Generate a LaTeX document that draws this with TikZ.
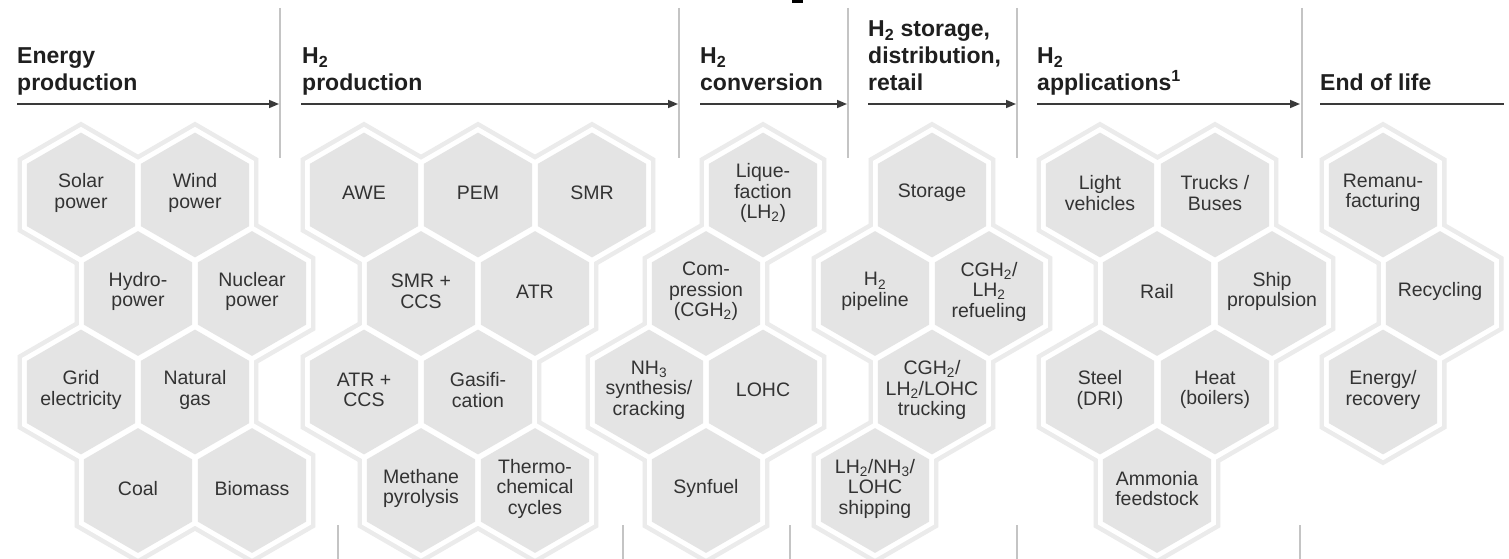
\documentclass[tikz,border=0pt]{standalone}
\usepackage{fontspec}
\setmainfont{Liberation Sans}
\usetikzlibrary{arrows.meta}
\definecolor{hexfill}{HTML}{E4E4E4}
\definecolor{hexband}{HTML}{EBEBEB}
\definecolor{sepline}{HTML}{C4C4C4}
\definecolor{arrcol}{HTML}{3A3A3A}
\definecolor{headcol}{HTML}{1F1F1F}
\definecolor{lblcol}{HTML}{333333}
\tikzset{
  head/.style={anchor=base west, inner sep=0pt, font=\fontsize{23}{27}\selectfont\bfseries, text=headcol},
  lbl/.style={align=center, inner sep=0pt, font=\fontsize{19.5}{20.5}\selectfont, text=lblcol},
  flow/.style={draw=arrcol, line width=1.5pt, -{Triangle[length=10pt,width=8pt]}},
  flowplain/.style={draw=arrcol, line width=1.5pt},
  sepln/.style={draw=sepline, line width=1.2pt},
}
\newcommand{\hexpath}[3]{(#1,#2) +(90:#3) -- +(150:#3) -- +(210:#3) -- +(270:#3) -- +(330:#3) -- +(30:#3) -- cycle}
\def\cells{81/195, 195/195, 138/293.5, 252/293.5, 81/392, 195/392, 138/490.5, 252/490.5,
364/195, 478/195, 592/195, 421/293.5, 535/293.5, 364/392, 478/392, 421/490.5, 535/490.5,
763/195, 706/293.5, 649/392, 763/392, 706/490.5,
932/195, 875/293.5, 989/293.5, 932/392, 875/490.5,
1100/195, 1215/195, 1157/293.5, 1272/293.5, 1100/392, 1215/392, 1157/490.5,
1383/195, 1440/293.5, 1383/392}
\begin{document}
\begin{tikzpicture}[x=1pt,y=-1pt]
\useasboundingbox (0,0) rectangle (1509,559);
\clip (0,0) rectangle (1509,559);
\fill[white] (0,0) rectangle (1509,559);
% hexagon layers
\foreach \x/\y in \cells { \fill[hexband] \hexpath{\x}{\y}{73.3}; }
\foreach \x/\y in \cells { \fill[white] \hexpath{\x}{\y}{68.1}; }
\foreach \x/\y in \cells { \fill[hexfill] \hexpath{\x}{\y}{62.4}; }
% separator lines
\foreach \sx in {280,679,848,1017,1302} { \draw[sepln] (\sx,8) -- (\sx,158); }
\foreach \sx in {338,623,790,1017,1300} { \draw[sepln] (\sx,525) -- (\sx,559); }
\fill[black] (792,0) rectangle (803,3);
% headings
\node[head] (h1a) at (17,63.5) {Energy};
\node[head] (h1b) at (17,90.5) {production};
\node[head] (h2a) at (302,63.5) {H\textsubscript{2}};
\node[head] (h2b) at (302,90.5) {production};
\node[head] (h3a) at (700,63.5) {H\textsubscript{2}};
\node[head] (h3b) at (700,90.5) {conversion};
\node[head] (h4a) at (868,36.5) {H\textsubscript{2} storage,};
\node[head] (h4b) at (868,63.5) {distribution,};
\node[head] (h4c) at (868,90.5) {retail};
\node[head] (h5a) at (1037,63.5) {H\textsubscript{2}};
\node[head] (h5b) at (1037,90.5) {applications\textsuperscript{1}};
\node[head] (h6a) at (1320,90.5) {End of life};
% flow arrows
\coordinate (f1s) at (17,104);   \coordinate (f1e) at (279,104);
\coordinate (f2s) at (301,104);  \coordinate (f2e) at (678,104);
\coordinate (f3s) at (700,104);  \coordinate (f3e) at (847,104);
\coordinate (f4s) at (868,104);  \coordinate (f4e) at (1016,104);
\coordinate (f5s) at (1037,104); \coordinate (f5e) at (1300,104);
\coordinate (f6s) at (1320,104); \coordinate (f6e) at (1504,104);
\draw[flow] (f1s) -- (f1e);
\draw[flow] (f2s) -- (f2e);
\draw[flow] (f3s) -- (f3e);
\draw[flow] (f4s) -- (f4e);
\draw[flow] (f5s) -- (f5e);
\draw[flowplain] (f6s) -- (f6e);
% energy production
\node[lbl] (solar) at (81,193) {Solar\\power};
\node[lbl] (wind) at (195,193) {Wind\\power};
\node[lbl] (hydro) at (138,291.5) {Hydro-\\power};
\node[lbl] (nuclear) at (252,291.5) {Nuclear\\power};
\node[lbl] (grid) at (81,390) {Grid\\electricity};
\node[lbl] (natgas) at (195,390) {Natural\\gas};
\node[lbl] (coal) at (138,488.5) {Coal};
\node[lbl] (biomass) at (252,488.5) {Biomass};
% H2 production
\node[lbl] (awe) at (364,193) {AWE};
\node[lbl] (pem) at (478,193) {PEM};
\node[lbl] (smr) at (592,193) {SMR};
\node[lbl] (smrccs) at (421,291.5) {SMR +\\CCS};
\node[lbl] (atr) at (535,291.5) {ATR};
\node[lbl] (atrccs) at (364,390) {ATR +\\CCS};
\node[lbl] (gasif) at (478,390) {Gasifi-\\cation};
\node[lbl] (methane) at (421,488.5) {Methane\\pyrolysis};
\node[lbl] (thermo) at (535,488.5) {Thermo-\\chemical\\cycles};
% H2 conversion
\node[lbl] (liquef) at (763,193) {Lique-\\faction\\(LH\textsubscript{2})};
\node[lbl] (compr) at (706,291.5) {Com-\\pression\\(CGH\textsubscript{2})};
\node[lbl] (nhthree) at (649,390) {NH\textsubscript{3}\\synthesis/\\cracking};
\node[lbl] (lohc) at (763,390) {LOHC};
\node[lbl] (synfuel) at (706,488.5) {Synfuel};
% storage
\node[lbl] (storage) at (932,193) {Storage};
\node[lbl] (pipeline) at (875,291.5) {H\textsubscript{2}\\pipeline};
\node[lbl] (refuel) at (989,291.5) {CGH\textsubscript{2}/\\LH\textsubscript{2}\\refueling};
\node[lbl] (trucking) at (932,390) {CGH\textsubscript{2}/\\LH\textsubscript{2}/LOHC\\trucking};
\node[lbl] (shipping) at (875,488.5) {LH\textsubscript{2}/NH\textsubscript{3}/\\LOHC\\shipping};
% applications
\node[lbl] (light) at (1100,193) {Light\\vehicles};
\node[lbl] (trucks) at (1215,193) {Trucks /\\Buses};
\node[lbl] (rail) at (1157,291.5) {Rail};
\node[lbl] (ship) at (1272,291.5) {Ship\\propulsion};
\node[lbl] (steel) at (1100,390) {Steel\\(DRI)};
\node[lbl] (heat) at (1215,390) {Heat\\(boilers)};
\node[lbl] (ammonia) at (1157,488.5) {Ammonia\\feedstock};
% end of life
\node[lbl] (reman) at (1383,193) {Remanu-\\facturing};
\node[lbl] (recycling) at (1440,291.5) {Recycling};
\node[lbl] (energyrec) at (1383,390) {Energy/\\recovery};
\end{tikzpicture}
\end{document}
